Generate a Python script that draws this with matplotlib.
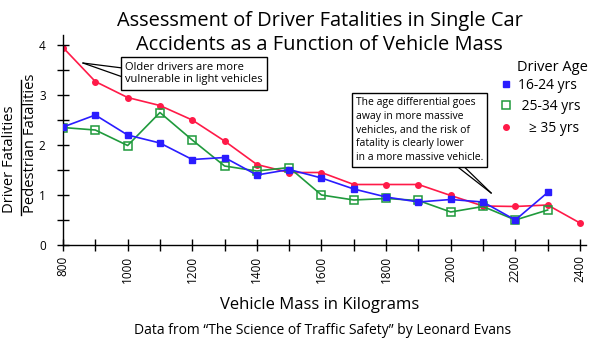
import matplotlib
matplotlib.use('Agg')
from matplotlib import pyplot as plt
from matplotlib.lines import Line2D
from matplotlib.ticker import MultipleLocator

plt.rcParams['font.family'] = ['Open Sans', 'DejaVu Sans']

# Vehicle mass (kg)
mass = [800, 900, 1000, 1100, 1200, 1300, 1400, 1500, 1600, 1700,
        1800, 1900, 2000, 2100, 2200, 2300, 2400]

# Ratio of driver fatalities to pedestrian fatalities by driver age
young = [2.36, 2.6, 2.2, 2.04, 1.71, 1.75, 1.4, 1.51, 1.34, 1.12,
         0.96, 0.86, 0.91, 0.86, 0.5, 1.05]
mid = [2.35, 2.3, 1.99, 2.65, 2.1, 1.58, 1.48, 1.55, 1.0, 0.9,
       0.93, 0.89, 0.66, 0.77, 0.5, 0.7]
old = [3.95, 3.27, 2.95, 2.79, 2.5, 2.08, 1.61, 1.45, 1.45, 1.21,
       1.21, 1.21, 0.99, 0.78, 0.77, 0.8, 0.44]

labels = ['16-24 yrs', ' 25-34 yrs', '   \u2265 35 yrs']

blue = '#2a1cff'
green = '#1f9a3c'
red = '#ff1a48'

fig = plt.figure(figsize=(6.03, 3.47), dpi=100)
ax = fig.add_axes([0.1045, 0.294, 0.868, 0.605])

ax.plot(mass[:len(young)], young, color=blue, lw=1.2, marker='s', ms=3.8,
        mec=blue, mfc=blue, zorder=3)
ax.plot(mass[:len(mid)], mid, color=green, lw=1.2, marker='s', ms=5.8,
        mec=green, mfc='none', mew=1.1, zorder=2)
ax.plot(mass, old, color=red, lw=1.2, marker='o', ms=4,
        mec=red, mfc=red, zorder=1)

ax.set_xlim(800, 2420)
ax.set_ylim(0, 4.2)
for s in ['top', 'right']:
    ax.spines[s].set_visible(False)
for s in ['left', 'bottom']:
    ax.spines[s].set_linewidth(1.0)

ax.xaxis.set_major_locator(MultipleLocator(200))
ax.xaxis.set_minor_locator(MultipleLocator(100))
ax.yaxis.set_major_locator(MultipleLocator(1))
ax.yaxis.set_minor_locator(MultipleLocator(0.5))
ax.tick_params(axis='both', which='both', direction='inout', length=9, width=1.0)
ax.tick_params(axis='x', which='major', labelsize=8.5, labelrotation=90, pad=3)
ax.tick_params(axis='y', which='major', labelsize=8.5, pad=8)

# y label as a fraction
fig.text(0.016, 0.386, 'Driver Fatalities', rotation=90, ha='center', va='bottom', fontsize=10.6)
fig.text(0.051, 0.386, 'Pedestrian Fatalities', rotation=90, ha='center', va='bottom', fontsize=10.6)
fig.add_artist(Line2D([0.034, 0.034], [0.380, 0.769], color='black', lw=1.0,
                      transform=fig.transFigure))

fig.text(0.53, 0.905, 'Assessment of Driver Fatalities in Single Car\nAccidents as a Function of Vehicle Mass',
         ha='center', va='center', fontsize=14.4, linespacing=1.3)
fig.text(0.53, 0.12, 'Vehicle Mass in Kilograms', ha='center', va='center', fontsize=12)
fig.text(0.535, 0.048, 'Data from \u201cThe Science of Traffic Safety\u201d by Leonard Evans',
         ha='center', va='center', fontsize=10)

# callouts
box = dict(boxstyle='square,pad=0.4', fc='white', ec='black', lw=1.0)
for yy in [3.54, 3.36]:
    ax.plot([862, 985], [3.64, yy], color='black', lw=0.9, zorder=4)
ax.text(992, 3.43, 'Older drivers are more\nvulnerable in light vehicles', fontsize=8,
        ha='left', va='center', bbox=box, zorder=5, linespacing=1.2)

for xx in [2014, 2036]:
    ax.plot([xx, 2125], [1.6, 1.04], color='black', lw=0.9, zorder=4)
ax.text(1706, 2.3, 'The age differential goes\naway in more massive\nvehicles, and the risk of\nfatality is clearly lower\nin a more massive vehicle.',
        fontsize=7.5, ha='left', va='center', bbox=box, zorder=5, linespacing=1.33)

# legend
handles = [Line2D([], [], ls='none', marker='s', ms=3.8, color=blue),
           Line2D([], [], ls='none', marker='s', ms=5.8, mfc='none', mec=green, mew=1.1),
           Line2D([], [], ls='none', marker='o', ms=4, color=red)]
leg = fig.legend(handles, labels, loc='upper left',
                 bbox_to_anchor=(0.832, 0.775), frameon=False, fontsize=10,
                 handlelength=0.6, handletextpad=0.55,
                 labelspacing=0.45, borderaxespad=0, borderpad=0)
fig.text(0.857, 0.805, 'Driver Age', ha='left', va='center', fontsize=10.5)

fig.savefig('out.png', dpi=100)
